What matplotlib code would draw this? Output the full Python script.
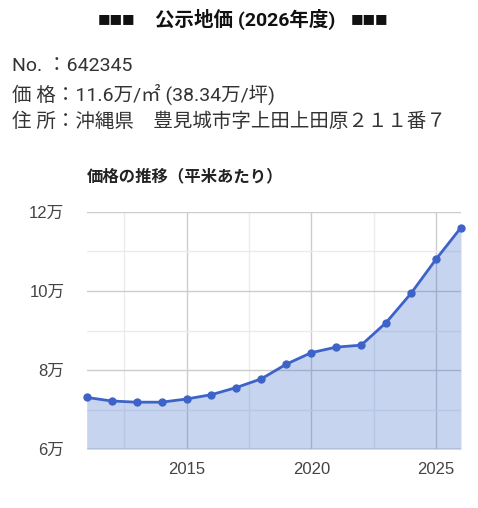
import matplotlib.pyplot as plt
import numpy as np

plt.rcParams['font.family'] = ['Noto Sans CJK JP', 'DejaVu Sans']

# Price per m2, in units of 万円
years = list(range(2011, 2027))
prices = [7.31, 7.22, 7.19, 7.19, 7.27, 7.38, 7.56, 7.78, 8.15, 8.44,
          8.58, 8.63, 9.20, 9.94, 10.80, 11.60]
y_ticks = [6, 8, 10, 12]
x_ticks = [2015, 2020, 2025]

title = "公示地価 (2026年度)"
info_lines = ["No. ：642345",
              "価 格：11.6万/㎡ (38.34万/坪)",
              "住 所：沖縄県　豊見城市字上田上田原２１１番７"]
chart_title = "価格の推移（平米あたり）"

latin_cjk = ['Roboto', 'Noto Sans CJK JP', 'DejaVu Sans']
arial_cjk = ['Liberation Sans', 'Noto Sans CJK JP', 'DejaVu Sans']

fig = plt.figure(figsize=(4.78, 5.08), dpi=100)
ty = 1 - 19 / 508
fig.text(116.5 / 478, ty, "■■■", ha='center', va='center', fontsize=9.5,
         color='#111111', family='DejaVu Sans')
fig.text(370 / 478, ty, "■■■", ha='center', va='center', fontsize=9.5,
         color='#111111', family='DejaVu Sans')
fig.text(245 / 478, ty, title, ha='center', va='center', fontsize=14,
         fontweight='bold', color='#111111', family=latin_cjk)
for i, line in enumerate(info_lines):
    fig.text(12 / 478, 1 - (66 + 28 * i) / 508, line, ha='left',
             va='center', fontsize=14, color='#333333', family=latin_cjk)
fig.text(87 / 478, 1 - 176 / 508, chart_title, ha='left', va='center',
         fontsize=11.8, fontweight='bold', color='#222222')

ax = fig.add_axes([86.7 / 478, 1 - 449.3 / 508, 374.3 / 478, 237.6 / 508])
ax.fill_between(years, 6, prices, color='#3366cc', alpha=0.28, linewidth=0,
                zorder=2)
ax.plot(years, prices, color='#3d63c9', linewidth=2, marker='o',
        markersize=5, zorder=3, clip_on=False)

ax.set_xlim(2011, 2026)
ax.set_ylim(6, 12)
ax.set_xticks(x_ticks)
ax.set_xticks([2012.5, 2017.5, 2022.5], minor=True)
ax.set_yticks(y_ticks)
ax.set_yticks([7, 9, 11], minor=True)
ax.set_yticklabels([f"{v}万" for v in y_ticks])
ax.grid(which='major', color='#cccccc', linewidth=1, zorder=0)
ax.grid(which='minor', color='#ebebeb', linewidth=1, zorder=0)
ax.axhline(6, color='#999999', linewidth=1, zorder=1)
ax.tick_params(which='both', length=0, labelsize=12, labelcolor='#444444')
ax.tick_params(axis='y', pad=16)
ax.tick_params(axis='x', pad=9)
for lab in ax.get_xticklabels() + ax.get_yticklabels():
    lab.set_family(arial_cjk)
for s in ax.spines.values():
    s.set_visible(False)

fig.savefig("out.png", dpi=100)
